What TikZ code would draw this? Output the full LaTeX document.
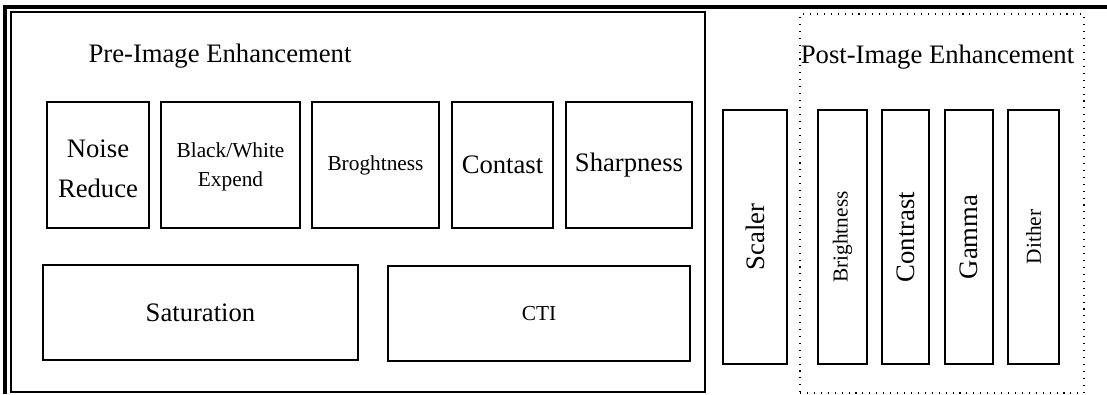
\documentclass[tikz,border=0pt]{standalone}
\usepackage{fontspec}
\setmainfont{Liberation Serif}
\usetikzlibrary{fit}
\begin{document}
\begin{tikzpicture}[x=0.75pt,y=-0.75pt,
  box/.style={draw, line width=1pt, inner sep=0pt},
  big/.style={font=\fontsize{20}{30}\selectfont},
  small/.style={font=\fontsize{16}{22}\selectfont},
  lbl/.style={inner sep=0pt, align=center},
  vlabel/.style={rotate=90, inner sep=0pt},
  group/.style={draw, line width=1.1pt, inner sep=0pt},
  dotgroup/.style={draw, line width=0.8pt, dash pattern=on 0.8pt off 4.4pt, inner sep=0pt},
  title/.style={font=\fontsize{20}{24}\selectfont, anchor=base, inner sep=0pt},
]
\useasboundingbox (0,0) rectangle (1107,394);

% outer frame (only its top and left sides lie on the page)
\coordinate (frameBL) at (5,394);
\coordinate (frameTL) at (5,7);
\coordinate (frameTR) at (1107,7);
\draw[line width=2.4pt] (frameBL) -- (frameTL) -- (frameTR);

% pre-image enhancement group
\node[group, fit={(11,12) (705,392)}] (pre) {};
\node[title] (pretitle) at (220,62) {Pre-Image Enhancement};

\node[box, fit={(47,102) (149,228)}]  (noise) {};
\node[lbl, big] at ([yshift=-3pt]noise.center) {Noise\\Reduce};
\node[box, fit={(161,102) (300,228)}] (bw) {};
\node[lbl, small] at ([yshift=-1.5pt]bw.center) {Black/White\\Expend};
\node[box, fit={(312,102) (439,228)}] (brpre) {};
\node[lbl, small] at (brpre.center) {Broghtness};
\node[box, fit={(452,102) (553,228)}] (ctpre) {};
\node[lbl, big] at (ctpre.center) {Contast};
\node[box, fit={(566,102) (692,228)}] (sharp) {};
\node[lbl, big] at (sharp.center) {Sharpness};

\node[box, fit={(43,265) (358,360)}]  (sat) {};
\node[lbl, big] at (sat.center) {Saturation};
\node[box, fit={(388,266) (690,361)}] (cti) {};
\node[lbl, small] at (cti.center) {CTI};

% scaler
\node[box, fit={(723,110) (787,364)}] (scaler) {};
\node[vlabel, big] at (scaler.center) {Scaler};

% post-image enhancement group
\node[dotgroup, fit={(800,14) (1084,393)}] (post) {};
\node[title] (posttitle) at (937.5,63) {Post-Image Enhancement};

\node[box, fit={(818,110) (867,364)}]  (brpost) {};
\node[vlabel, small] at (brpost.center) {Brightness};
\node[box, fit={(882,110) (929,364)}]  (ctpost) {};
\node[vlabel, big] at (ctpost.center) {Contrast};
\node[box, fit={(945,110) (993,364)}]  (gamma) {};
\node[vlabel, big] at (gamma.center) {Gamma};
\node[box, fit={(1008,110) (1059,364)}] (dither) {};
\node[vlabel, small] at (dither.center) {Dither};
\end{tikzpicture}
\end{document}
